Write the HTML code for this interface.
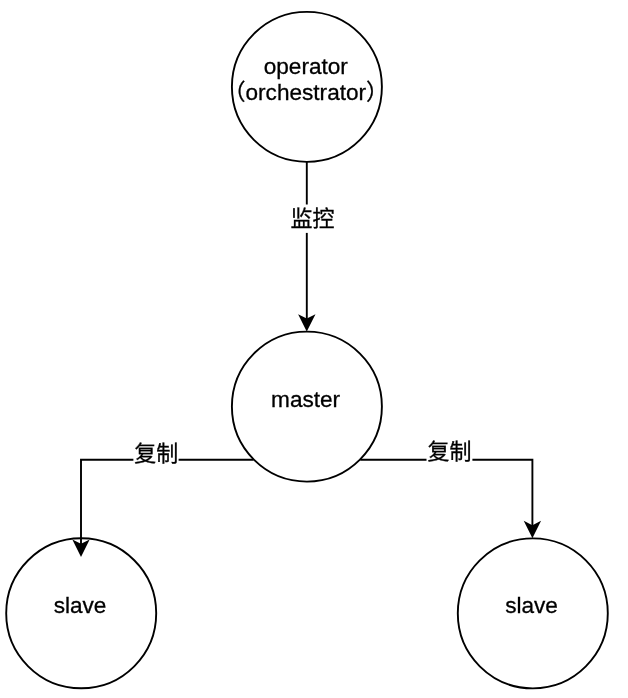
<!DOCTYPE html>
<html lang="zh">
<head>
<meta charset="utf-8">
<title>diagram</title>
<style>
html,body{margin:0;padding:0;background:#fff;}
body{width:628px;height:698px;overflow:hidden;}
svg{display:block;will-change:transform;}
text{font-family:"Liberation Sans","Noto Sans CJK SC",sans-serif;font-size:22.6px;fill:#000;text-anchor:middle;stroke:#000;stroke-width:0.3px;}
.c{fill:#fff;stroke:#000;stroke-width:1.9;}
.l{fill:none;stroke:#000;stroke-width:1.9;stroke-miterlimit:10;}
.a{fill:#000;stroke:#000;stroke-width:1.88;stroke-miterlimit:10;stroke-linejoin:miter;}
text.e{font-size:22px;}
.bg{fill:#fff;stroke:none;}
</style>
</head>
<body>
<svg width="628" height="698" viewBox="0 0 628 698">
<rect width="628" height="698" fill="#fff"/>
<!-- nodes -->
<circle class="c" cx="306.9" cy="86.85" r="75"/>
<circle class="c" cx="306.9" cy="406.6" r="75"/>
<circle class="c" cx="81.2" cy="613.3" r="75"/>
<circle class="c" cx="532.8" cy="613.35" r="75"/>
<!-- edges -->
<path class="l" d="M306.8 161.8 V319.63"/>
<path class="l" d="M253.5 459.75 H81 V544.93"/>
<path class="l" d="M360.3 459.75 H532.4 V526.23"/>
<!-- arrow heads -->
<path class="a" d="M306.80 329.50 L300.22 316.34 L306.80 319.63 L313.38 316.34 Z"/>
<path class="a" d="M81.00 554.80 L74.42 541.64 L81.00 544.93 L87.58 541.64 Z"/>
<path class="a" d="M532.40 536.10 L525.82 522.94 L532.40 526.23 L538.98 522.94 Z"/>
<!-- edge labels -->
<rect class="bg" x="289.5" y="204.5" width="46" height="28.4"/>
<text class="e" x="312.4" y="226">监控</text>
<rect class="bg" x="133.4" y="440" width="45.2" height="26"/>
<text class="e" x="156.2" y="460.8">复制</text>
<rect class="bg" x="426.5" y="440" width="45.9" height="26"/>
<text class="e" x="449.6" y="458.9">复制</text>
<!-- node labels -->
<text x="305.8" y="74">operator</text>
<text x="305.8" y="99.7">（orchestrator）</text>
<text x="305.6" y="406.6">master</text>
<text x="80" y="612.6">slave</text>
<text x="531.5" y="612.6">slave</text>
</svg>
</body>
</html>
